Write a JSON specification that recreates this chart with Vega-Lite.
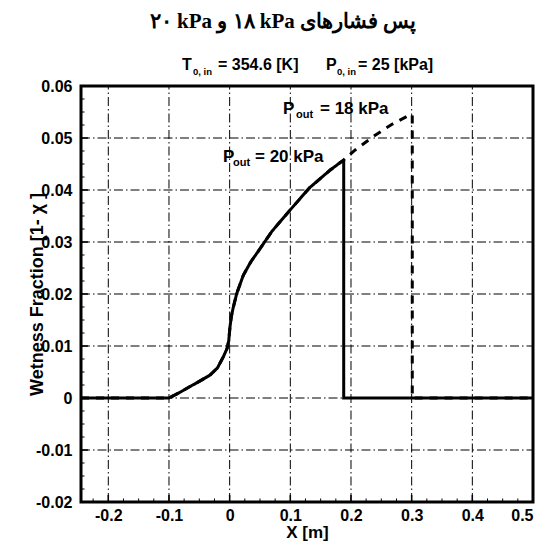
{
  "$schema": "https://vega.github.io/schema/vega-lite/v6.json",
  "width": 452,
  "height": 416,
  "autosize": {"type": "none"},
  "padding": {"left": 81, "top": 86, "right": 13, "bottom": 44},
  "background": "white",
  "config": {"view": {"stroke": "black", "strokeWidth": 3}, "font": "Liberation Sans"},
  "title": {
    "text": "۲۰ kPa و ‎۱۸ kPa پس فشارهای",
    "font": "Liberation Serif",
    "fontSize": 21,
    "fontWeight": "bold",
    "color": "black",
    "anchor": "middle",
    "frame": "group",
    "dx": -24,
    "baseline": "alphabetic",
    "offset": 8
  },
  "datasets": {
    "curves": [
      {"i": 1, "series": "20", "x": -0.245, "y": 0},
      {"i": 2, "series": "20", "x": -0.1, "y": 0},
      {"i": 3, "series": "20", "x": -0.085, "y": 0.0009},
      {"i": 4, "series": "20", "x": -0.0653, "y": 0.0022},
      {"i": 5, "series": "20", "x": -0.05, "y": 0.0032},
      {"i": 6, "series": "20", "x": -0.0324, "y": 0.0044},
      {"i": 7, "series": "20", "x": -0.02, "y": 0.0058},
      {"i": 8, "series": "20", "x": -0.0105, "y": 0.0079},
      {"i": 9, "series": "20", "x": -0.004, "y": 0.0096},
      {"i": 10, "series": "20", "x": -0.0015, "y": 0.011},
      {"i": 11, "series": "20", "x": 0.0006, "y": 0.0137},
      {"i": 12, "series": "20", "x": 0.003, "y": 0.0158},
      {"i": 13, "series": "20", "x": 0.0061, "y": 0.0175},
      {"i": 14, "series": "20", "x": 0.0117, "y": 0.0201},
      {"i": 15, "series": "20", "x": 0.0225, "y": 0.0236},
      {"i": 16, "series": "20", "x": 0.035, "y": 0.0262},
      {"i": 17, "series": "20", "x": 0.05, "y": 0.0287},
      {"i": 18, "series": "20", "x": 0.07, "y": 0.0321},
      {"i": 19, "series": "20", "x": 0.1, "y": 0.0362},
      {"i": 20, "series": "20", "x": 0.1324, "y": 0.0405},
      {"i": 21, "series": "20", "x": 0.1653, "y": 0.0438},
      {"i": 22, "series": "20", "x": 0.186, "y": 0.0456},
      {"i": 23, "series": "20", "x": 0.188, "y": 0.0456},
      {"i": 24, "series": "20", "x": 0.188, "y": 0},
      {"i": 25, "series": "20", "x": 0.5, "y": 0},
      {"i": 1, "series": "18", "x": -0.245, "y": 0},
      {"i": 2, "series": "18", "x": -0.1, "y": 0},
      {"i": 3, "series": "18", "x": -0.085, "y": 0.0009},
      {"i": 4, "series": "18", "x": -0.0653, "y": 0.0022},
      {"i": 5, "series": "18", "x": -0.05, "y": 0.0032},
      {"i": 6, "series": "18", "x": -0.0324, "y": 0.0044},
      {"i": 7, "series": "18", "x": -0.02, "y": 0.0058},
      {"i": 8, "series": "18", "x": -0.0105, "y": 0.0079},
      {"i": 9, "series": "18", "x": -0.004, "y": 0.0096},
      {"i": 10, "series": "18", "x": -0.0015, "y": 0.011},
      {"i": 11, "series": "18", "x": 0.0006, "y": 0.0137},
      {"i": 12, "series": "18", "x": 0.003, "y": 0.0158},
      {"i": 13, "series": "18", "x": 0.0061, "y": 0.0175},
      {"i": 14, "series": "18", "x": 0.0117, "y": 0.0201},
      {"i": 15, "series": "18", "x": 0.0225, "y": 0.0236},
      {"i": 16, "series": "18", "x": 0.035, "y": 0.0262},
      {"i": 17, "series": "18", "x": 0.05, "y": 0.0287},
      {"i": 18, "series": "18", "x": 0.07, "y": 0.0321},
      {"i": 19, "series": "18", "x": 0.1, "y": 0.0362},
      {"i": 20, "series": "18", "x": 0.1324, "y": 0.0405},
      {"i": 21, "series": "18", "x": 0.1653, "y": 0.0438},
      {"i": 22, "series": "18", "x": 0.186, "y": 0.0456},
      {"i": 23, "series": "18", "x": 0.207, "y": 0.0477},
      {"i": 24, "series": "18", "x": 0.237, "y": 0.0503},
      {"i": 25, "series": "18", "x": 0.267, "y": 0.0526},
      {"i": 26, "series": "18", "x": 0.298, "y": 0.0545},
      {"i": 27, "series": "18", "x": 0.301, "y": 0.0545},
      {"i": 28, "series": "18", "x": 0.301, "y": 0},
      {"i": 29, "series": "18", "x": 0.5, "y": 0}
    ],
    "grid": [
      {"g": "x1", "x": -0.2, "y": -0.02}, {"g": "x1", "x": -0.2, "y": 0.06},
      {"g": "x2", "x": -0.1, "y": -0.02}, {"g": "x2", "x": -0.1, "y": 0.06},
      {"g": "x3", "x": 0, "y": -0.02}, {"g": "x3", "x": 0, "y": 0.06},
      {"g": "x4", "x": 0.1, "y": -0.02}, {"g": "x4", "x": 0.1, "y": 0.06},
      {"g": "x5", "x": 0.2, "y": -0.02}, {"g": "x5", "x": 0.2, "y": 0.06},
      {"g": "x6", "x": 0.3, "y": -0.02}, {"g": "x6", "x": 0.3, "y": 0.06},
      {"g": "x7", "x": 0.4, "y": -0.02}, {"g": "x7", "x": 0.4, "y": 0.06},
      {"g": "y1", "x": -0.245, "y": -0.01}, {"g": "y1", "x": 0.5, "y": -0.01},
      {"g": "y2", "x": -0.245, "y": 0}, {"g": "y2", "x": 0.5, "y": 0},
      {"g": "y3", "x": -0.245, "y": 0.01}, {"g": "y3", "x": 0.5, "y": 0.01},
      {"g": "y4", "x": -0.245, "y": 0.02}, {"g": "y4", "x": 0.5, "y": 0.02},
      {"g": "y5", "x": -0.245, "y": 0.03}, {"g": "y5", "x": 0.5, "y": 0.03},
      {"g": "y6", "x": -0.245, "y": 0.04}, {"g": "y6", "x": 0.5, "y": 0.04},
      {"g": "y7", "x": -0.245, "y": 0.05}, {"g": "y7", "x": 0.5, "y": 0.05}
    ],
    "majorticks": [
      {"t": "x1", "x": -0.2, "y": -0.02}, {"t": "x1", "x": -0.2, "y": -0.01865},
      {"t": "x2", "x": -0.1, "y": -0.02}, {"t": "x2", "x": -0.1, "y": -0.01865},
      {"t": "x3", "x": 0, "y": -0.02}, {"t": "x3", "x": 0, "y": -0.01865},
      {"t": "x4", "x": 0.1, "y": -0.02}, {"t": "x4", "x": 0.1, "y": -0.01865},
      {"t": "x5", "x": 0.2, "y": -0.02}, {"t": "x5", "x": 0.2, "y": -0.01865},
      {"t": "x6", "x": 0.3, "y": -0.02}, {"t": "x6", "x": 0.3, "y": -0.01865},
      {"t": "x7", "x": 0.4, "y": -0.02}, {"t": "x7", "x": 0.4, "y": -0.01865},
      {"t": "y1", "x": -0.245, "y": -0.01}, {"t": "y1", "x": -0.2335, "y": -0.01},
      {"t": "y2", "x": -0.245, "y": 0}, {"t": "y2", "x": -0.2335, "y": 0},
      {"t": "y3", "x": -0.245, "y": 0.01}, {"t": "y3", "x": -0.2335, "y": 0.01},
      {"t": "y4", "x": -0.245, "y": 0.02}, {"t": "y4", "x": -0.2335, "y": 0.02},
      {"t": "y5", "x": -0.245, "y": 0.03}, {"t": "y5", "x": -0.2335, "y": 0.03},
      {"t": "y6", "x": -0.245, "y": 0.04}, {"t": "y6", "x": -0.2335, "y": 0.04},
      {"t": "y7", "x": -0.245, "y": 0.05}, {"t": "y7", "x": -0.2335, "y": 0.05}
    ],
    "minorticks": [
      {"t": "a1", "x": -0.225, "y": -0.02}, {"t": "a1", "x": -0.225, "y": -0.01933},
      {"t": "a2", "x": -0.175, "y": -0.02}, {"t": "a2", "x": -0.175, "y": -0.01933},
      {"t": "a3", "x": -0.15, "y": -0.02}, {"t": "a3", "x": -0.15, "y": -0.01933},
      {"t": "a4", "x": -0.125, "y": -0.02}, {"t": "a4", "x": -0.125, "y": -0.01933},
      {"t": "a5", "x": -0.075, "y": -0.02}, {"t": "a5", "x": -0.075, "y": -0.01933},
      {"t": "a6", "x": -0.05, "y": -0.02}, {"t": "a6", "x": -0.05, "y": -0.01933},
      {"t": "a7", "x": -0.025, "y": -0.02}, {"t": "a7", "x": -0.025, "y": -0.01933},
      {"t": "a8", "x": 0.025, "y": -0.02}, {"t": "a8", "x": 0.025, "y": -0.01933},
      {"t": "a9", "x": 0.05, "y": -0.02}, {"t": "a9", "x": 0.05, "y": -0.01933},
      {"t": "a10", "x": 0.075, "y": -0.02}, {"t": "a10", "x": 0.075, "y": -0.01933},
      {"t": "a11", "x": 0.125, "y": -0.02}, {"t": "a11", "x": 0.125, "y": -0.01933},
      {"t": "a12", "x": 0.15, "y": -0.02}, {"t": "a12", "x": 0.15, "y": -0.01933},
      {"t": "a13", "x": 0.175, "y": -0.02}, {"t": "a13", "x": 0.175, "y": -0.01933},
      {"t": "a14", "x": 0.225, "y": -0.02}, {"t": "a14", "x": 0.225, "y": -0.01933},
      {"t": "a15", "x": 0.25, "y": -0.02}, {"t": "a15", "x": 0.25, "y": -0.01933},
      {"t": "a16", "x": 0.275, "y": -0.02}, {"t": "a16", "x": 0.275, "y": -0.01933},
      {"t": "a17", "x": 0.325, "y": -0.02}, {"t": "a17", "x": 0.325, "y": -0.01933},
      {"t": "a18", "x": 0.35, "y": -0.02}, {"t": "a18", "x": 0.35, "y": -0.01933},
      {"t": "a19", "x": 0.375, "y": -0.02}, {"t": "a19", "x": 0.375, "y": -0.01933},
      {"t": "a20", "x": 0.425, "y": -0.02}, {"t": "a20", "x": 0.425, "y": -0.01933},
      {"t": "a21", "x": 0.45, "y": -0.02}, {"t": "a21", "x": 0.45, "y": -0.01933},
      {"t": "a22", "x": 0.475, "y": -0.02}, {"t": "a22", "x": 0.475, "y": -0.01933},
      {"t": "b1", "x": -0.245, "y": -0.0175}, {"t": "b1", "x": -0.2392, "y": -0.0175},
      {"t": "b2", "x": -0.245, "y": -0.015}, {"t": "b2", "x": -0.2392, "y": -0.015},
      {"t": "b3", "x": -0.245, "y": -0.0125}, {"t": "b3", "x": -0.2392, "y": -0.0125},
      {"t": "b4", "x": -0.245, "y": -0.0075}, {"t": "b4", "x": -0.2392, "y": -0.0075},
      {"t": "b5", "x": -0.245, "y": -0.005}, {"t": "b5", "x": -0.2392, "y": -0.005},
      {"t": "b6", "x": -0.245, "y": -0.0025}, {"t": "b6", "x": -0.2392, "y": -0.0025},
      {"t": "b7", "x": -0.245, "y": 0.0025}, {"t": "b7", "x": -0.2392, "y": 0.0025},
      {"t": "b8", "x": -0.245, "y": 0.005}, {"t": "b8", "x": -0.2392, "y": 0.005},
      {"t": "b9", "x": -0.245, "y": 0.0075}, {"t": "b9", "x": -0.2392, "y": 0.0075},
      {"t": "b10", "x": -0.245, "y": 0.0125}, {"t": "b10", "x": -0.2392, "y": 0.0125},
      {"t": "b11", "x": -0.245, "y": 0.015}, {"t": "b11", "x": -0.2392, "y": 0.015},
      {"t": "b12", "x": -0.245, "y": 0.0175}, {"t": "b12", "x": -0.2392, "y": 0.0175},
      {"t": "b13", "x": -0.245, "y": 0.0225}, {"t": "b13", "x": -0.2392, "y": 0.0225},
      {"t": "b14", "x": -0.245, "y": 0.025}, {"t": "b14", "x": -0.2392, "y": 0.025},
      {"t": "b15", "x": -0.245, "y": 0.0275}, {"t": "b15", "x": -0.2392, "y": 0.0275},
      {"t": "b16", "x": -0.245, "y": 0.0325}, {"t": "b16", "x": -0.2392, "y": 0.0325},
      {"t": "b17", "x": -0.245, "y": 0.035}, {"t": "b17", "x": -0.2392, "y": 0.035},
      {"t": "b18", "x": -0.245, "y": 0.0375}, {"t": "b18", "x": -0.2392, "y": 0.0375},
      {"t": "b19", "x": -0.245, "y": 0.0425}, {"t": "b19", "x": -0.2392, "y": 0.0425},
      {"t": "b20", "x": -0.245, "y": 0.045}, {"t": "b20", "x": -0.2392, "y": 0.045},
      {"t": "b21", "x": -0.245, "y": 0.0475}, {"t": "b21", "x": -0.2392, "y": 0.0475},
      {"t": "b22", "x": -0.245, "y": 0.0525}, {"t": "b22", "x": -0.2392, "y": 0.0525},
      {"t": "b23", "x": -0.245, "y": 0.055}, {"t": "b23", "x": -0.2392, "y": 0.055},
      {"t": "b24", "x": -0.245, "y": 0.0575}, {"t": "b24", "x": -0.2392, "y": 0.0575}
    ],
    "labels": [
      {"kind": "small", "text": "T", "x": -0.0785, "y": 0.0631},
      {"kind": "small", "text": "= 354.6 [K]", "x": -0.0192, "y": 0.0631},
      {"kind": "small", "text": "P", "x": 0.1588, "y": 0.0631},
      {"kind": "small", "text": "= 25 [kPa]", "x": 0.2116, "y": 0.0631},
      {"kind": "smallsub", "text": "0, in", "x": -0.0604, "y": 0.0622},
      {"kind": "smallsub", "text": "0, in", "x": 0.1769, "y": 0.0622},
      {"kind": "big", "text": "P", "x": 0.0879, "y": 0.0546},
      {"kind": "big", "text": "= 18 kPa", "x": 0.1489, "y": 0.0546},
      {"kind": "big", "text": "P", "x": -0.011, "y": 0.0454},
      {"kind": "big", "text": "= 20 kPa", "x": 0.0418, "y": 0.0454},
      {"kind": "bigsub", "text": "out", "x": 0.1094, "y": 0.0539},
      {"kind": "bigsub", "text": "out", "x": 0.0055, "y": 0.0446}
    ]
  },
  "layer": [
    {
      "data": {"name": "curves"},
      "mark": {"type": "point", "opacity": 0},
      "encoding": {
        "x": {
          "field": "x", "type": "quantitative",
          "scale": {"domain": [-0.245, 0.5], "nice": false, "zero": false},
          "axis": {
            "orient": "bottom",
            "values": [-0.2, -0.1, 0, 0.1, 0.2, 0.3, 0.4, 0.5],
            "labelExpr": "datum.value == 0 ? '0' : (datum.value < 0 ? '-' : '') + format(abs(datum.value), '.1f')",
            "grid": true, "gridOpacity": 0,
            "domain": true, "domainOpacity": 0,
            "ticks": true, "tickSize": 7, "tickOpacity": 0,
            "labelPadding": -2, "labelFont": "Liberation Sans", "labelFontWeight": "bold", "labelFontSize": 16, "labelColor": "black",
            "title": "X [m]", "titleFont": "Liberation Sans", "titleFontSize": 17, "titleFontWeight": "bold", "titleColor": "black",
            "titleY": 30, "titleBaseline": "middle"
          }
        },
        "y": {
          "field": "y", "type": "quantitative",
          "scale": {"domain": [-0.02, 0.06], "nice": false, "zero": false},
          "axis": {
            "orient": "left",
            "values": [-0.02, -0.01, 0, 0.01, 0.02, 0.03, 0.04, 0.05, 0.06],
            "labelExpr": "datum.value == 0 ? '0' : (datum.value < 0 ? '-' : '') + format(abs(datum.value), '.2f')",
            "grid": true, "gridOpacity": 0,
            "domain": true, "domainOpacity": 0,
            "ticks": true, "tickSize": 7, "tickOpacity": 0,
            "labelPadding": 2, "labelFont": "Liberation Sans", "labelFontWeight": "bold", "labelFontSize": 16, "labelColor": "black",
            "title": "Wetness Fraction [1- χ ]", "titleFont": "Liberation Sans", "titleFontSize": 18, "titleFontWeight": "bold", "titleColor": "black",
            "titleX": -44, "titleY": 208, "titleBaseline": "middle", "titleAngle": -90
          }
        }
      }
    },
    {
      "data": {"name": "grid"},
      "mark": {"type": "line", "color": "black", "strokeWidth": 1, "strokeDash": [9, 3, 1.5, 3]},
      "encoding": {
        "x": {"field": "x", "type": "quantitative", "scale": {"domain": [-0.245, 0.5], "nice": false, "zero": false}, "axis": null},
        "y": {"field": "y", "type": "quantitative", "scale": {"domain": [-0.02, 0.06], "nice": false, "zero": false}, "axis": null},
        "detail": {"field": "g", "type": "nominal"}
      }
    },
    {
      "data": {"name": "majorticks"},
      "mark": {"type": "line", "color": "black", "strokeWidth": 1.5, "strokeCap": "butt"},
      "encoding": {
        "x": {"field": "x", "type": "quantitative", "scale": {"domain": [-0.245, 0.5], "nice": false, "zero": false}, "axis": null},
        "y": {"field": "y", "type": "quantitative", "scale": {"domain": [-0.02, 0.06], "nice": false, "zero": false}, "axis": null},
        "detail": {"field": "t", "type": "nominal"}
      }
    },
    {
      "data": {"name": "minorticks"},
      "mark": {"type": "line", "color": "black", "strokeWidth": 1, "strokeCap": "butt"},
      "encoding": {
        "x": {"field": "x", "type": "quantitative", "scale": {"domain": [-0.245, 0.5], "nice": false, "zero": false}, "axis": null},
        "y": {"field": "y", "type": "quantitative", "scale": {"domain": [-0.02, 0.06], "nice": false, "zero": false}, "axis": null},
        "detail": {"field": "t", "type": "nominal"}
      }
    },
    {
      "data": {"name": "curves"},
      "mark": {"type": "line", "strokeWidth": 3, "color": "black", "strokeCap": "butt"},
      "encoding": {
        "x": {"field": "x", "type": "quantitative", "scale": {"domain": [-0.245, 0.5], "nice": false, "zero": false}, "axis": null},
        "y": {"field": "y", "type": "quantitative", "scale": {"domain": [-0.02, 0.06], "nice": false, "zero": false}, "axis": null},
        "strokeDash": {
          "field": "series", "type": "nominal",
          "scale": {"domain": ["20", "18"], "range": [[1, 0], [8, 7]]},
          "legend": null
        },
        "order": {"field": "i", "type": "quantitative"}
      }
    },
    {
      "data": {"name": "labels"},
      "transform": [{"filter": "datum.kind == 'small'"}],
      "mark": {"type": "text", "align": "left", "baseline": "alphabetic", "font": "Liberation Sans", "fontWeight": "bold", "fontSize": 16, "color": "black"},
      "encoding": {
        "x": {"field": "x", "type": "quantitative", "scale": {"domain": [-0.245, 0.5], "nice": false, "zero": false}, "axis": null},
        "y": {"field": "y", "type": "quantitative", "scale": {"domain": [-0.02, 0.06], "nice": false, "zero": false}, "axis": null},
        "text": {"field": "text"}
      }
    },
    {
      "data": {"name": "labels"},
      "transform": [{"filter": "datum.kind == 'smallsub'"}],
      "mark": {"type": "text", "align": "left", "baseline": "alphabetic", "font": "Liberation Sans", "fontWeight": "bold", "fontSize": 9.5, "color": "black"},
      "encoding": {
        "x": {"field": "x", "type": "quantitative", "scale": {"domain": [-0.245, 0.5], "nice": false, "zero": false}, "axis": null},
        "y": {"field": "y", "type": "quantitative", "scale": {"domain": [-0.02, 0.06], "nice": false, "zero": false}, "axis": null},
        "text": {"field": "text"}
      }
    },
    {
      "data": {"name": "labels"},
      "transform": [{"filter": "datum.kind == 'big'"}],
      "mark": {"type": "text", "align": "left", "baseline": "alphabetic", "font": "Liberation Sans", "fontWeight": "bold", "fontSize": 17, "color": "black"},
      "encoding": {
        "x": {"field": "x", "type": "quantitative", "scale": {"domain": [-0.245, 0.5], "nice": false, "zero": false}, "axis": null},
        "y": {"field": "y", "type": "quantitative", "scale": {"domain": [-0.02, 0.06], "nice": false, "zero": false}, "axis": null},
        "text": {"field": "text"}
      }
    },
    {
      "data": {"name": "labels"},
      "transform": [{"filter": "datum.kind == 'bigsub'"}],
      "mark": {"type": "text", "align": "left", "baseline": "alphabetic", "font": "Liberation Sans", "fontWeight": "bold", "fontSize": 11, "color": "black"},
      "encoding": {
        "x": {"field": "x", "type": "quantitative", "scale": {"domain": [-0.245, 0.5], "nice": false, "zero": false}, "axis": null},
        "y": {"field": "y", "type": "quantitative", "scale": {"domain": [-0.02, 0.06], "nice": false, "zero": false}, "axis": null},
        "text": {"field": "text"}
      }
    }
  ],
  "resolve": {"axis": {"x": "independent", "y": "independent"}}
}
